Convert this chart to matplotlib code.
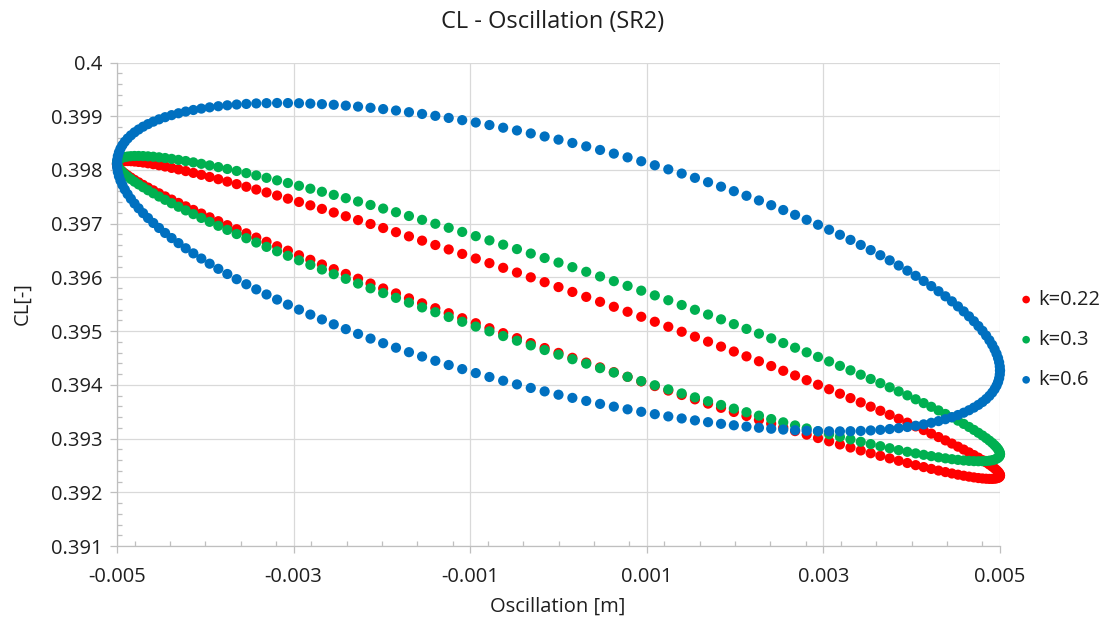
import numpy as np
import matplotlib
matplotlib.use("Agg")
import matplotlib.pyplot as plt
from matplotlib.ticker import FixedLocator, MultipleLocator

plt.rcParams['font.family'] = ['Open Sans', 'DejaVu Sans']

# oscillation positions, one half cycle from +5 mm to -5 mm (200 samples per period)
osc_mm = [
    5.0000, 4.9976, 4.9902, 4.9778, 4.9606, 4.9385, 4.9115, 4.8796, 4.8429, 4.8015,
    4.7553, 4.7044, 4.6489, 4.5888, 4.5242, 4.4551, 4.3816, 4.3037, 4.2217, 4.1354,
    4.0451, 3.9508, 3.8526, 3.7506, 3.6449, 3.5355, 3.4228, 3.3066, 3.1871, 3.0646,
    2.9390, 2.8104, 2.6792, 2.5452, 2.4088, 2.2700, 2.1289, 1.9858, 1.8406, 1.6937,
    1.5451, 1.3950, 1.2435, 1.0907, 0.9369, 0.7822, 0.6267, 0.4706, 0.3140, 0.1571,
    0.0000,
    -0.1571, -0.3140, -0.4706, -0.6267, -0.7822, -0.9369, -1.0907, -1.2435, -1.3950, -1.5451,
    -1.6937, -1.8406, -1.9858, -2.1289, -2.2700, -2.4088, -2.5452, -2.6792, -2.8104, -2.9390,
    -3.0646, -3.1871, -3.3066, -3.4228, -3.5355, -3.6449, -3.7506, -3.8526, -3.9508, -4.0451,
    -4.1354, -4.2217, -4.3037, -4.3816, -4.4551, -4.5242, -4.5888, -4.6489, -4.7044, -4.7553,
    -4.8015, -4.8429, -4.8796, -4.9115, -4.9385, -4.9606, -4.9778, -4.9902, -4.9976, -5.0000,
]

# CL on the upper / lower branch of each loop, same positions as osc_mm
cl_k022_up = [
    0.392313, 0.392334, 0.392357, 0.392384, 0.392413, 0.392445, 0.392479, 0.392516, 0.392556, 0.392599,
    0.392644, 0.392692, 0.392742, 0.392795, 0.392849, 0.392907, 0.392966, 0.393028, 0.393092, 0.393158,
    0.393226, 0.393296, 0.393368, 0.393442, 0.393517, 0.393594, 0.393673, 0.393753, 0.393835, 0.393918,
    0.394002, 0.394087, 0.394174, 0.394261, 0.394350, 0.394439, 0.394530, 0.394620, 0.394712, 0.394804,
    0.394896, 0.394988, 0.395081, 0.395174, 0.395267, 0.395360, 0.395453, 0.395545, 0.395637, 0.395729,
    0.395820,
    0.395911, 0.396001, 0.396090, 0.396178, 0.396265, 0.396351, 0.396437, 0.396520, 0.396603, 0.396684,
    0.396764, 0.396842, 0.396919, 0.396994, 0.397067, 0.397138, 0.397208, 0.397275, 0.397341, 0.397404,
    0.397465, 0.397524, 0.397581, 0.397635, 0.397687, 0.397736, 0.397783, 0.397828, 0.397869, 0.397909,
    0.397945, 0.397979, 0.398010, 0.398038, 0.398064, 0.398087, 0.398107, 0.398124, 0.398138, 0.398149,
    0.398157, 0.398163, 0.398165, 0.398165, 0.398161, 0.398155, 0.398146, 0.398134, 0.398119, 0.398101,
]
cl_k022_lo = [
    0.392313, 0.392295, 0.392280, 0.392268, 0.392259, 0.392253, 0.392249, 0.392249, 0.392252, 0.392257,
    0.392265, 0.392277, 0.392291, 0.392308, 0.392327, 0.392350, 0.392376, 0.392404, 0.392435, 0.392469,
    0.392505, 0.392545, 0.392586, 0.392631, 0.392678, 0.392727, 0.392779, 0.392833, 0.392890, 0.392949,
    0.393010, 0.393073, 0.393139, 0.393206, 0.393276, 0.393347, 0.393420, 0.393495, 0.393572, 0.393650,
    0.393730, 0.393811, 0.393893, 0.393977, 0.394063, 0.394149, 0.394236, 0.394325, 0.394414, 0.394503,
    0.394594,
    0.394685, 0.394777, 0.394869, 0.394962, 0.395054, 0.395147, 0.395240, 0.395333, 0.395426, 0.395518,
    0.395610, 0.395702, 0.395794, 0.395885, 0.395975, 0.396064, 0.396153, 0.396240, 0.396327, 0.396412,
    0.396497, 0.396580, 0.396662, 0.396741, 0.396820, 0.396897, 0.396972, 0.397046, 0.397118, 0.397188,
    0.397256, 0.397322, 0.397386, 0.397448, 0.397507, 0.397565, 0.397620, 0.397672, 0.397722, 0.397770,
    0.397815, 0.397858, 0.397898, 0.397935, 0.397970, 0.398001, 0.398031, 0.398057, 0.398080, 0.398101,
]
cl_k03_up = [
    0.392710, 0.392738, 0.392769, 0.392803, 0.392839, 0.392877, 0.392919, 0.392962, 0.393008, 0.393057,
    0.393107, 0.393161, 0.393216, 0.393273, 0.393333, 0.393394, 0.393458, 0.393524, 0.393591, 0.393660,
    0.393731, 0.393804, 0.393878, 0.393954, 0.394031, 0.394109, 0.394189, 0.394270, 0.394353, 0.394436,
    0.394520, 0.394605, 0.394691, 0.394778, 0.394865, 0.394953, 0.395041, 0.395130, 0.395219, 0.395308,
    0.395397, 0.395486, 0.395575, 0.395665, 0.395753, 0.395842, 0.395930, 0.396017, 0.396104, 0.396191,
    0.396276,
    0.396361, 0.396444, 0.396527, 0.396609, 0.396689, 0.396768, 0.396846, 0.396923, 0.396998, 0.397071,
    0.397143, 0.397213, 0.397281, 0.397348, 0.397413, 0.397475, 0.397536, 0.397594, 0.397651, 0.397705,
    0.397757, 0.397806, 0.397853, 0.397898, 0.397941, 0.397981, 0.398018, 0.398053, 0.398085, 0.398114,
    0.398141, 0.398166, 0.398187, 0.398206, 0.398222, 0.398235, 0.398246, 0.398253, 0.398258, 0.398260,
    0.398260, 0.398256, 0.398250, 0.398241, 0.398229, 0.398214, 0.398197, 0.398177, 0.398154, 0.398128,
]
cl_k03_lo = [
    0.392710, 0.392684, 0.392662, 0.392641, 0.392624, 0.392609, 0.392597, 0.392588, 0.392582, 0.392579,
    0.392578, 0.392580, 0.392585, 0.392592, 0.392603, 0.392616, 0.392632, 0.392651, 0.392673, 0.392697,
    0.392724, 0.392753, 0.392785, 0.392820, 0.392858, 0.392897, 0.392940, 0.392985, 0.393032, 0.393081,
    0.393133, 0.393188, 0.393244, 0.393302, 0.393363, 0.393426, 0.393490, 0.393557, 0.393625, 0.393695,
    0.393767, 0.393840, 0.393915, 0.393992, 0.394070, 0.394149, 0.394229, 0.394311, 0.394394, 0.394477,
    0.394562,
    0.394648, 0.394734, 0.394821, 0.394908, 0.394996, 0.395085, 0.395174, 0.395263, 0.395352, 0.395441,
    0.395530, 0.395619, 0.395708, 0.395797, 0.395885, 0.395973, 0.396060, 0.396147, 0.396233, 0.396318,
    0.396402, 0.396486, 0.396568, 0.396649, 0.396729, 0.396807, 0.396884, 0.396960, 0.397034, 0.397107,
    0.397178, 0.397247, 0.397315, 0.397380, 0.397444, 0.397505, 0.397565, 0.397622, 0.397678, 0.397731,
    0.397781, 0.397830, 0.397876, 0.397919, 0.397961, 0.397999, 0.398035, 0.398069, 0.398100, 0.398128,
]
cl_k06_up = [
    0.394266, 0.394342, 0.394419, 0.394498, 0.394579, 0.394661, 0.394745, 0.394830, 0.394917, 0.395005,
    0.395094, 0.395184, 0.395275, 0.395367, 0.395460, 0.395554, 0.395648, 0.395742, 0.395838, 0.395933,
    0.396029, 0.396125, 0.396221, 0.396317, 0.396413, 0.396508, 0.396604, 0.396698, 0.396793, 0.396887,
    0.396980, 0.397072, 0.397164, 0.397254, 0.397344, 0.397432, 0.397519, 0.397605, 0.397689, 0.397772,
    0.397853, 0.397933, 0.398011, 0.398087, 0.398162, 0.398234, 0.398304, 0.398372, 0.398439, 0.398502,
    0.398564,
    0.398623, 0.398680, 0.398735, 0.398786, 0.398836, 0.398883, 0.398927, 0.398968, 0.399007, 0.399042,
    0.399075, 0.399106, 0.399133, 0.399157, 0.399179, 0.399197, 0.399213, 0.399225, 0.399235, 0.399242,
    0.399245, 0.399246, 0.399243, 0.399238, 0.399229, 0.399218, 0.399203, 0.399186, 0.399165, 0.399142,
    0.399116, 0.399087, 0.399055, 0.399020, 0.398982, 0.398942, 0.398899, 0.398853, 0.398805, 0.398753,
    0.398700, 0.398644, 0.398586, 0.398525, 0.398462, 0.398396, 0.398329, 0.398259, 0.398188, 0.398114,
]
cl_k06_lo = [
    0.394266, 0.394192, 0.394121, 0.394051, 0.393984, 0.393918, 0.393855, 0.393794, 0.393736, 0.393680,
    0.393627, 0.393576, 0.393527, 0.393481, 0.393438, 0.393398, 0.393360, 0.393325, 0.393293, 0.393264,
    0.393238, 0.393215, 0.393194, 0.393177, 0.393162, 0.393151, 0.393142, 0.393137, 0.393134, 0.393135,
    0.393139, 0.393145, 0.393155, 0.393167, 0.393183, 0.393201, 0.393223, 0.393247, 0.393274, 0.393305,
    0.393338, 0.393374, 0.393412, 0.393454, 0.393498, 0.393544, 0.393594, 0.393645, 0.393700, 0.393757,
    0.393816,
    0.393878, 0.393942, 0.394008, 0.394076, 0.394146, 0.394219, 0.394293, 0.394369, 0.394447, 0.394527,
    0.394608, 0.394691, 0.394775, 0.394861, 0.394948, 0.395037, 0.395126, 0.395217, 0.395308, 0.395400,
    0.395493, 0.395587, 0.395682, 0.395777, 0.395872, 0.395967, 0.396063, 0.396159, 0.396255, 0.396351,
    0.396447, 0.396542, 0.396638, 0.396732, 0.396827, 0.396920, 0.397013, 0.397105, 0.397196, 0.397286,
    0.397375, 0.397463, 0.397550, 0.397635, 0.397719, 0.397801, 0.397882, 0.397961, 0.398039, 0.398114,
]

series_labels = ['k=0.22', 'k=0.3', 'k=0.6']
series_colors = ['#FF0000', '#00B050', '#0070C0']

x_ticks = [-0.005, -0.003, -0.001, 0.001, 0.003, 0.005]
x_ticklabels = ['-0.005', '-0.003', '-0.001', '0.001', '0.003', '0.005']
y_ticks = [0.391, 0.392, 0.393, 0.394, 0.395, 0.396, 0.397, 0.398, 0.399, 0.4]
y_ticklabels = ['0.391', '0.392', '0.393', '0.394', '0.395', '0.396', '0.397', '0.398', '0.399', '0.4']

axis_grey = '#BFBFBF'
grid_grey = '#D9D9D9'
text_col = '#1f1f1f'

fig = plt.figure(figsize=(11.07, 6.22), dpi=100)
ax = fig.add_axes([117/1107, 1 - 546/622, (1000-117)/1107, (546-62.5)/622])

x_m = np.array(osc_mm) / 1000.0
loops = [(cl_k022_up, cl_k022_lo), (cl_k03_up, cl_k03_lo), (cl_k06_up, cl_k06_lo)]
for (up, lo), lab, col in zip(loops, series_labels, series_colors):
    xs = np.concatenate([x_m, x_m[::-1]])
    ys = np.concatenate([up, lo[::-1]])
    ax.scatter(xs, ys, s=54, color=col, edgecolors='none', label=lab,
               clip_on=False, zorder=3)

ax.set_xlim(-0.005, 0.005)
ax.set_ylim(0.391, 0.4)

ax.xaxis.set_major_locator(FixedLocator(x_ticks))
ax.set_xticklabels(x_ticklabels)
ax.yaxis.set_major_locator(FixedLocator(y_ticks))
ax.set_yticklabels(y_ticklabels)
ax.xaxis.set_minor_locator(MultipleLocator(0.0004))
ax.yaxis.set_minor_locator(MultipleLocator(0.0002))

ax.grid(True, which='major', color=grid_grey, linewidth=0.9, zorder=0)
ax.set_axisbelow(True)

for side in ['top', 'right']:
    ax.spines[side].set_visible(False)
for side in ['left', 'bottom']:
    ax.spines[side].set_color(axis_grey)
    ax.spines[side].set_linewidth(0.9)

ax.tick_params(which='major', direction='out', length=5, width=0.9, color=axis_grey,
               labelsize=14.5, labelcolor=text_col)
ax.tick_params(axis='x', which='major', pad=10)
ax.tick_params(axis='y', which='major', pad=5.5)
ax.tick_params(which='minor', direction='in', length=3.5, width=0.9, color=axis_grey)

fig.text(553/1107, 1 - 22/622, 'CL - Oscillation (SR2)', ha='center', va='center',
         fontsize=17, color=text_col)
fig.text(558/1107, 1 - 607/622, 'Oscillation [m]', ha='center', va='center',
         fontsize=14.5, color=text_col)
fig.text(22/1107, 1 - 304/622, 'CL[-]', ha='center', va='center', rotation=90,
         fontsize=14.5, color=text_col)

leg = fig.legend(loc='center left', bbox_to_anchor=(1006/1107, 1 - 340/622),
                 frameon=False, fontsize=14.5, markerscale=0.75, handlelength=0.6,
                 handletextpad=0.3, labelspacing=1.0, borderpad=0.2)
for t in leg.get_texts():
    t.set_color(text_col)

fig.savefig('out.png', dpi=100)
